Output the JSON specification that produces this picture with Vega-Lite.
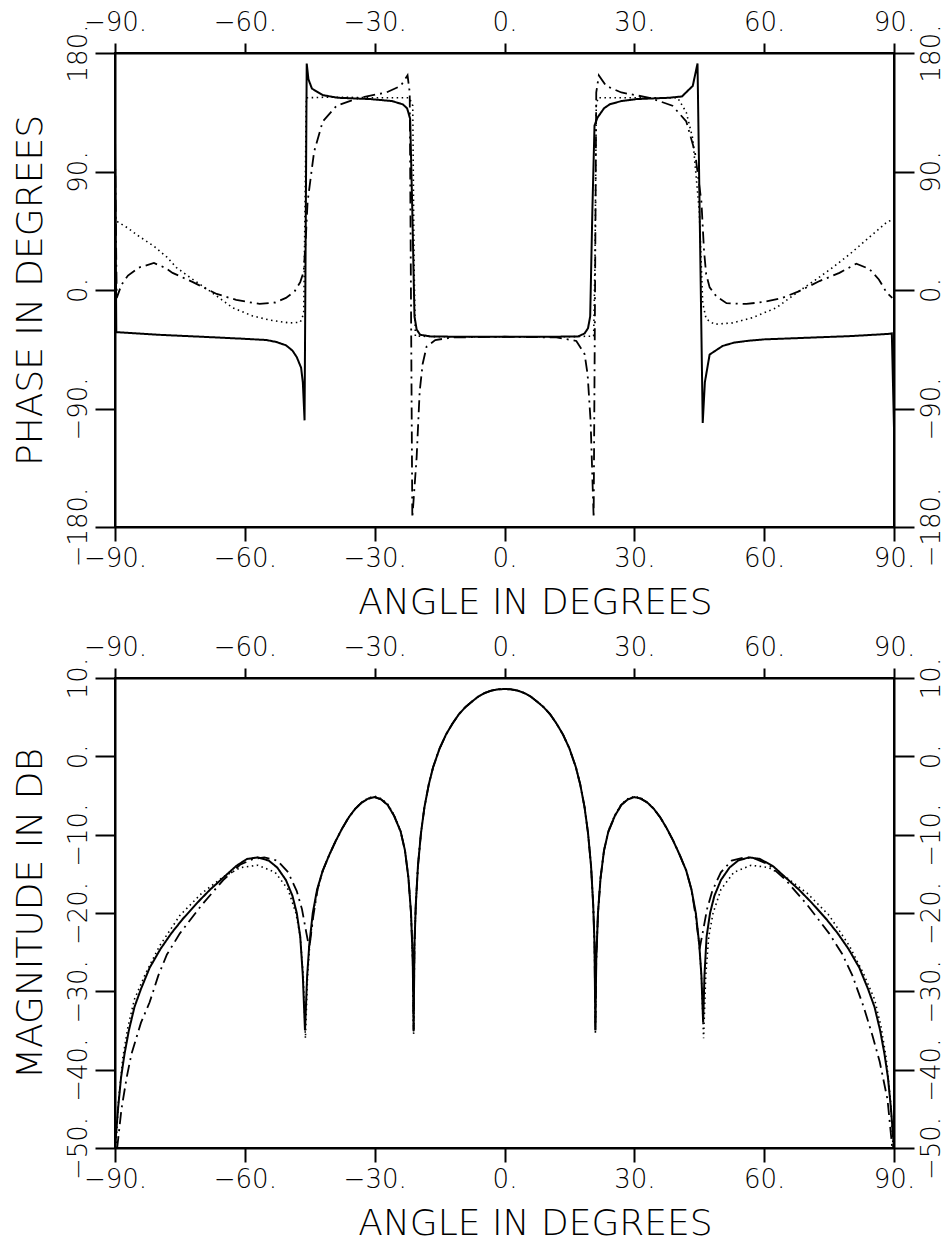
{
"$schema": "https://vega.github.io/schema/vega-lite/v6.json",
"background": "white",
"padding": {"left": 11, "top": 8, "right": 5, "bottom": 5},
"bounds": "flush",
"spacing": 151,
"config": {
  "view": {"stroke": "black", "strokeWidth": 2},
  "axis": {"grid": false, "domainColor": "black", "domainWidth": 2, "tickColor": "black", "tickWidth": 2,
    "labelColor": "black", "titleColor": "black", "labelFont": "DejaVu Sans", "titleFont": "DejaVu Sans",
    "labelFontWeight": 200, "titleFontWeight": 200, "labelFontSize": 26, "titleFontSize": 36, "labelOverlap": false, "labelFlush": false}
},
"datasets": {
"phase": [
{"s":"a","x":-90,"y":115},{"s":"a","x":-89.7,"y":-32},{"s":"a","x":-80,"y":-34},{"s":"a","x":-70,"y":-35.5},{"s":"a","x":-60.5,"y":-37},{"s":"a","x":-55,"y":-38},{"s":"a","x":-52.7,"y":-39.5},{"s":"a","x":-50.5,"y":-42},{"s":"a","x":-49,"y":-46},{"s":"a","x":-48,"y":-51},{"s":"a","x":-47,"y":-59},{"s":"a","x":-46.6,"y":-70},{"s":"a","x":-46.2,"y":-99},{"s":"a","x":-45.7,"y":172},{"s":"a","x":-45.3,"y":160},{"s":"a","x":-44.5,"y":153},{"s":"a","x":-42,"y":148},{"s":"a","x":-38.5,"y":146},{"s":"a","x":-31,"y":145},{"s":"a","x":-26,"y":143.5},{"s":"a","x":-23.5,"y":141},{"s":"a","x":-22.5,"y":138},{"s":"a","x":-21.8,"y":130},{"s":"a","x":-21.3,"y":60},{"s":"a","x":-20.8,"y":-20},{"s":"a","x":-20.3,"y":-30},{"s":"a","x":-19.5,"y":-34},{"s":"a","x":-17,"y":-35.3},{"s":"a","x":-10,"y":-35.5},{"s":"a","x":0,"y":-35.5},{"s":"a","x":10,"y":-35.5},{"s":"a","x":17,"y":-35.3},{"s":"a","x":18.5,"y":-33},{"s":"a","x":19.3,"y":-29},{"s":"a","x":19.8,"y":-20},{"s":"a","x":20.3,"y":60},{"s":"a","x":20.8,"y":125},{"s":"a","x":21.5,"y":131},{"s":"a","x":23,"y":138},{"s":"a","x":24.3,"y":141},{"s":"a","x":27,"y":143.5},{"s":"a","x":30.5,"y":145},{"s":"a","x":38,"y":146},{"s":"a","x":41,"y":147},{"s":"a","x":43.5,"y":155},{"s":"a","x":44.6,"y":172},{"s":"a","x":45.8,"y":-101},{"s":"a","x":46.3,"y":-70},{"s":"a","x":47.4,"y":-49},{"s":"a","x":50.4,"y":-42.5},{"s":"a","x":53,"y":-40},{"s":"a","x":55.9,"y":-38.7},{"s":"a","x":60,"y":-37.5},{"s":"a","x":68.9,"y":-36.4},{"s":"a","x":80,"y":-35},{"s":"a","x":88.5,"y":-33.4},{"s":"a","x":89.5,"y":-33},{"s":"a","x":90,"y":-105},
{"s":"b","x":-90,"y":105},{"s":"b","x":-89.6,"y":-6},{"s":"b","x":-88.5,"y":4},{"s":"b","x":-87,"y":11},{"s":"b","x":-84.5,"y":17},{"s":"b","x":-81,"y":20.5},{"s":"b","x":-78.5,"y":17},{"s":"b","x":-76.7,"y":13},{"s":"b","x":-72,"y":6},{"s":"b","x":-66.5,"y":-3},{"s":"b","x":-62,"y":-7.5},{"s":"b","x":-56.6,"y":-10.6},{"s":"b","x":-53,"y":-9.5},{"s":"b","x":-50.5,"y":-6},{"s":"b","x":-48.5,"y":-1},{"s":"b","x":-47.2,"y":6},{"s":"b","x":-46.4,"y":14},{"s":"b","x":-45.9,"y":40},{"s":"b","x":-45.5,"y":67},{"s":"b","x":-44,"y":105},{"s":"b","x":-42,"y":128},{"s":"b","x":-38.8,"y":140},{"s":"b","x":-33.5,"y":146},{"s":"b","x":-27.3,"y":150},{"s":"b","x":-24,"y":155},{"s":"b","x":-22.4,"y":163},{"s":"b","x":-21.9,"y":150},{"s":"b","x":-21.3,"y":-173},{"s":"b","x":-20.3,"y":-127},{"s":"b","x":-19.6,"y":-77},{"s":"b","x":-18.9,"y":-56},{"s":"b","x":-18,"y":-43},{"s":"b","x":-16,"y":-38},{"s":"b","x":-12,"y":-36},{"s":"b","x":0,"y":-35.5},{"s":"b","x":12,"y":-36},{"s":"b","x":16.6,"y":-38.7},{"s":"b","x":18.5,"y":-48.6},{"s":"b","x":19.2,"y":-64},{"s":"b","x":19.9,"y":-100},{"s":"b","x":20.6,"y":-173},{"s":"b","x":21.2,"y":150},{"s":"b","x":21.8,"y":163},{"s":"b","x":23.5,"y":155},{"s":"b","x":27,"y":150},{"s":"b","x":33.5,"y":146},{"s":"b","x":38.8,"y":140},{"s":"b","x":42,"y":128},{"s":"b","x":44,"y":105},{"s":"b","x":45.5,"y":67},{"s":"b","x":46.1,"y":30},{"s":"b","x":46.6,"y":12},{"s":"b","x":47.4,"y":2},{"s":"b","x":49,"y":-5},{"s":"b","x":51.3,"y":-10},{"s":"b","x":55.9,"y":-10.6},{"s":"b","x":60,"y":-9},{"s":"b","x":64.2,"y":-6},{"s":"b","x":68,"y":-1},{"s":"b","x":72.8,"y":6.8},{"s":"b","x":77.4,"y":13},{"s":"b","x":81.3,"y":20},{"s":"b","x":84.3,"y":16},{"s":"b","x":86.5,"y":8},{"s":"b","x":88.3,"y":-2},{"s":"b","x":89.6,"y":-6},
{"s":"c","x":-89.5,"y":52},{"s":"c","x":-87,"y":47},{"s":"c","x":-85,"y":42},{"s":"c","x":-80.9,"y":33},{"s":"c","x":-78,"y":25},{"s":"c","x":-75.8,"y":17},{"s":"c","x":-72,"y":8},{"s":"c","x":-68,"y":-1},{"s":"c","x":-62.8,"y":-13.5},{"s":"c","x":-58.2,"y":-19.7},{"s":"c","x":-54,"y":-23},{"s":"c","x":-49.7,"y":-25},{"s":"c","x":-47.2,"y":-24.5},{"s":"c","x":-46.4,"y":-18},{"s":"c","x":-46.1,"y":60},{"s":"c","x":-45.8,"y":146},{"s":"c","x":-40,"y":146.5},{"s":"c","x":-30,"y":146},{"s":"c","x":-22,"y":146},{"s":"c","x":-21.2,"y":140},{"s":"c","x":-20.9,"y":20},{"s":"c","x":-20.6,"y":-35},{"s":"c","x":-15,"y":-35.5},{"s":"c","x":0,"y":-35.5},{"s":"c","x":15,"y":-35.5},{"s":"c","x":20.6,"y":-35},{"s":"c","x":20.9,"y":20},{"s":"c","x":21.2,"y":140},{"s":"c","x":21.6,"y":146},{"s":"c","x":30,"y":146},{"s":"c","x":40,"y":146},{"s":"c","x":42,"y":135},{"s":"c","x":43.5,"y":115},{"s":"c","x":45,"y":60},{"s":"c","x":45.8,"y":-10},{"s":"c","x":46.6,"y":-22},{"s":"c","x":48.5,"y":-26},{"s":"c","x":52.7,"y":-25},{"s":"c","x":57.3,"y":-21},{"s":"c","x":62.8,"y":-13.5},{"s":"c","x":68,"y":-1},{"s":"c","x":72,"y":8},{"s":"c","x":75.8,"y":17},{"s":"c","x":79.7,"y":27},{"s":"c","x":85,"y":42},{"s":"c","x":88.5,"y":52},{"s":"c","x":89.5,"y":53}
],
"mag": [
{"s":"a","x":-90,"y":-50},{"s":"a","x":-89.3,"y":-45},{"s":"a","x":-88.6,"y":-41},{"s":"a","x":-87.8,"y":-38},{"s":"a","x":-86.8,"y":-35},{"s":"a","x":-85.5,"y":-32},{"s":"a","x":-84,"y":-29.7},{"s":"a","x":-82,"y":-27},{"s":"a","x":-79.5,"y":-24.6},{"s":"a","x":-77,"y":-22.6},{"s":"a","x":-74.4,"y":-20.8},{"s":"a","x":-71,"y":-18.7},{"s":"a","x":-68,"y":-17},{"s":"a","x":-65,"y":-15.5},{"s":"a","x":-62,"y":-14},{"s":"a","x":-59.5,"y":-13.1},{"s":"a","x":-57,"y":-12.9},{"s":"a","x":-54.5,"y":-13.3},{"s":"a","x":-52.5,"y":-14.2},{"s":"a","x":-50.5,"y":-15.8},{"s":"a","x":-49,"y":-17.8},{"s":"a","x":-48,"y":-20},{"s":"a","x":-47.2,"y":-23},{"s":"a","x":-46.6,"y":-28},{"s":"a","x":-46.1,"y":-35},{"s":"a","x":-45.6,"y":-28},{"s":"a","x":-45.1,"y":-24},{"s":"a","x":-44.3,"y":-20},{"s":"a","x":-43.3,"y":-17},{"s":"a","x":-42,"y":-14.6},{"s":"a","x":-40.5,"y":-12.6},{"s":"a","x":-39,"y":-10.8},{"s":"a","x":-37.5,"y":-9.2},{"s":"a","x":-36,"y":-7.8},{"s":"a","x":-34.5,"y":-6.7},{"s":"a","x":-33,"y":-5.9},{"s":"a","x":-31.5,"y":-5.4},{"s":"a","x":-30,"y":-5.2},{"s":"a","x":-28.5,"y":-5.5},{"s":"a","x":-27,"y":-6.2},{"s":"a","x":-25.5,"y":-7.6},{"s":"a","x":-24,"y":-9.6},{"s":"a","x":-23,"y":-12},{"s":"a","x":-22.2,"y":-15.5},{"s":"a","x":-21.6,"y":-20},{"s":"a","x":-21.2,"y":-26},{"s":"a","x":-21,"y":-35},{"s":"a","x":-20.8,"y":-24},{"s":"a","x":-20.5,"y":-19},{"s":"a","x":-20,"y":-14},{"s":"a","x":-19.3,"y":-9.8},{"s":"a","x":-18.5,"y":-6.5},{"s":"a","x":-17.5,"y":-3.6},{"s":"a","x":-16.5,"y":-1.4},{"s":"a","x":-15,"y":1},{"s":"a","x":-13.5,"y":2.8},{"s":"a","x":-12,"y":4.2},{"s":"a","x":-10.5,"y":5.4},{"s":"a","x":-9,"y":6.3},{"s":"a","x":-7.5,"y":7},{"s":"a","x":-6,"y":7.65},{"s":"a","x":-4.5,"y":8.1},{"s":"a","x":-3,"y":8.4},{"s":"a","x":-1.5,"y":8.55},{"s":"a","x":0,"y":8.6},{"s":"a","x":1.5,"y":8.55},{"s":"a","x":3,"y":8.4},{"s":"a","x":4.5,"y":8.1},{"s":"a","x":6,"y":7.65},{"s":"a","x":7.5,"y":7},{"s":"a","x":9,"y":6.3},{"s":"a","x":10.5,"y":5.4},{"s":"a","x":12,"y":4.2},{"s":"a","x":13.5,"y":2.8},{"s":"a","x":15,"y":1},{"s":"a","x":16.5,"y":-1.4},{"s":"a","x":17.5,"y":-3.6},{"s":"a","x":18.5,"y":-6.5},{"s":"a","x":19.3,"y":-9.8},{"s":"a","x":20,"y":-14},{"s":"a","x":20.5,"y":-19},{"s":"a","x":20.8,"y":-24},{"s":"a","x":21,"y":-35},{"s":"a","x":21.2,"y":-26},{"s":"a","x":21.6,"y":-20},{"s":"a","x":22.2,"y":-15.5},{"s":"a","x":23,"y":-12},{"s":"a","x":24,"y":-9.6},{"s":"a","x":25.5,"y":-7.6},{"s":"a","x":27,"y":-6.2},{"s":"a","x":28.5,"y":-5.5},{"s":"a","x":30,"y":-5.2},{"s":"a","x":31.5,"y":-5.4},{"s":"a","x":33,"y":-5.9},{"s":"a","x":34.5,"y":-6.7},{"s":"a","x":36,"y":-7.8},{"s":"a","x":37.5,"y":-9.2},{"s":"a","x":39,"y":-10.8},{"s":"a","x":40.5,"y":-12.6},{"s":"a","x":42,"y":-14.6},{"s":"a","x":43.2,"y":-17},{"s":"a","x":44.2,"y":-20},{"s":"a","x":45,"y":-24},{"s":"a","x":45.5,"y":-28},{"s":"a","x":45.9,"y":-34},{"s":"a","x":46.2,"y":-28},{"s":"a","x":46.7,"y":-23},{"s":"a","x":47.5,"y":-20},{"s":"a","x":48.5,"y":-17.8},{"s":"a","x":50,"y":-15.8},{"s":"a","x":52,"y":-14.2},{"s":"a","x":54,"y":-13.3},{"s":"a","x":56.5,"y":-12.9},{"s":"a","x":59,"y":-13.1},{"s":"a","x":62,"y":-14},{"s":"a","x":65,"y":-15.5},{"s":"a","x":68,"y":-17},{"s":"a","x":71,"y":-18.7},{"s":"a","x":74.4,"y":-20.8},{"s":"a","x":77,"y":-22.6},{"s":"a","x":79.5,"y":-24.6},{"s":"a","x":82,"y":-27},{"s":"a","x":84,"y":-29.7},{"s":"a","x":85.5,"y":-32},{"s":"a","x":86.8,"y":-35},{"s":"a","x":87.8,"y":-38},{"s":"a","x":88.6,"y":-41},{"s":"a","x":89.3,"y":-45},{"s":"a","x":90,"y":-50},
{"s":"b","x":-89.5,"y":-50},{"s":"b","x":-88.5,"y":-45},{"s":"b","x":-87.3,"y":-41},{"s":"b","x":-86.2,"y":-38},{"s":"b","x":-84,"y":-34},{"s":"b","x":-82,"y":-31.4},{"s":"b","x":-80,"y":-28},{"s":"b","x":-78,"y":-25.3},{"s":"b","x":-75,"y":-22.6},{"s":"b","x":-70,"y":-19},{"s":"b","x":-65,"y":-15.8},{"s":"b","x":-61,"y":-13.8},{"s":"b","x":-58,"y":-13.1},{"s":"b","x":-55.5,"y":-12.9},{"s":"b","x":-52.5,"y":-13.3},{"s":"b","x":-50,"y":-14.8},{"s":"b","x":-48,"y":-17.2},{"s":"b","x":-46.8,"y":-19.5},{"s":"b","x":-45.8,"y":-22.5},{"s":"b","x":-45.1,"y":-24.5},{"s":"b","x":-44.2,"y":-20.5},{"s":"b","x":-43.2,"y":-17},{"s":"b","x":-42,"y":-14.6},{"s":"b","x":-40.5,"y":-12.6},{"s":"b","x":-39,"y":-10.8},{"s":"b","x":-37.5,"y":-9.2},{"s":"b","x":-36,"y":-7.8},{"s":"b","x":-34.5,"y":-6.7},{"s":"b","x":-33,"y":-5.9},{"s":"b","x":-31.5,"y":-5.4},{"s":"b","x":-30,"y":-5.2},{"s":"b","x":-28.5,"y":-5.5},{"s":"b","x":-27,"y":-6.2},{"s":"b","x":-25.5,"y":-7.6},{"s":"b","x":-24,"y":-9.6},{"s":"b","x":-23,"y":-12},{"s":"b","x":-22.2,"y":-15.5},{"s":"b","x":-21.6,"y":-20},{"s":"b","x":-21.2,"y":-26},{"s":"b","x":-21,"y":-35},{"s":"b","x":-20.8,"y":-24},{"s":"b","x":-20.5,"y":-19},{"s":"b","x":-20,"y":-14},{"s":"b","x":-19.3,"y":-9.8},{"s":"b","x":-18.5,"y":-6.5},{"s":"b","x":-17.5,"y":-3.6},{"s":"b","x":-16.5,"y":-1.4},{"s":"b","x":-15,"y":1},{"s":"b","x":-13.5,"y":2.8},{"s":"b","x":-12,"y":4.2},{"s":"b","x":-10.5,"y":5.4},{"s":"b","x":-9,"y":6.3},{"s":"b","x":-7.5,"y":7},{"s":"b","x":-6,"y":7.65},{"s":"b","x":-4.5,"y":8.1},{"s":"b","x":-3,"y":8.4},{"s":"b","x":-1.5,"y":8.55},{"s":"b","x":0,"y":8.6},{"s":"b","x":1.5,"y":8.55},{"s":"b","x":3,"y":8.4},{"s":"b","x":4.5,"y":8.1},{"s":"b","x":6,"y":7.65},{"s":"b","x":7.5,"y":7},{"s":"b","x":9,"y":6.3},{"s":"b","x":10.5,"y":5.4},{"s":"b","x":12,"y":4.2},{"s":"b","x":13.5,"y":2.8},{"s":"b","x":15,"y":1},{"s":"b","x":16.5,"y":-1.4},{"s":"b","x":17.5,"y":-3.6},{"s":"b","x":18.5,"y":-6.5},{"s":"b","x":19.3,"y":-9.8},{"s":"b","x":20,"y":-14},{"s":"b","x":20.5,"y":-19},{"s":"b","x":20.8,"y":-24},{"s":"b","x":21,"y":-35},{"s":"b","x":21.2,"y":-26},{"s":"b","x":21.6,"y":-20},{"s":"b","x":22.2,"y":-15.5},{"s":"b","x":23,"y":-12},{"s":"b","x":24,"y":-9.6},{"s":"b","x":25.5,"y":-7.6},{"s":"b","x":27,"y":-6.2},{"s":"b","x":28.5,"y":-5.5},{"s":"b","x":30,"y":-5.2},{"s":"b","x":31.5,"y":-5.4},{"s":"b","x":33,"y":-5.9},{"s":"b","x":34.5,"y":-6.7},{"s":"b","x":36,"y":-7.8},{"s":"b","x":37.5,"y":-9.2},{"s":"b","x":39,"y":-10.8},{"s":"b","x":40.5,"y":-12.6},{"s":"b","x":42,"y":-14.6},{"s":"b","x":43.2,"y":-17},{"s":"b","x":44.2,"y":-20.5},{"s":"b","x":45.1,"y":-24.5},{"s":"b","x":45.8,"y":-22.5},{"s":"b","x":46.8,"y":-19.5},{"s":"b","x":48,"y":-17.2},{"s":"b","x":50,"y":-14.8},{"s":"b","x":52.5,"y":-13.3},{"s":"b","x":55.5,"y":-12.9},{"s":"b","x":58,"y":-13.1},{"s":"b","x":61,"y":-13.8},{"s":"b","x":65,"y":-15.8},{"s":"b","x":70,"y":-19},{"s":"b","x":75,"y":-22.6},{"s":"b","x":78,"y":-25.2},{"s":"b","x":80.4,"y":-28},{"s":"b","x":83,"y":-32},{"s":"b","x":85,"y":-35.6},{"s":"b","x":86.7,"y":-39},{"s":"b","x":88.5,"y":-43.8},{"s":"b","x":89.6,"y":-50},
{"s":"c","x":-89.8,"y":-50},{"s":"c","x":-89.2,"y":-44},{"s":"c","x":-88.2,"y":-38.5},{"s":"c","x":-87,"y":-34.5},{"s":"c","x":-85.5,"y":-31},{"s":"c","x":-83,"y":-27.8},{"s":"c","x":-79.7,"y":-24.2},{"s":"c","x":-75,"y":-20.3},{"s":"c","x":-70,"y":-17.5},{"s":"c","x":-65,"y":-15.4},{"s":"c","x":-61,"y":-14.2},{"s":"c","x":-57,"y":-13.9},{"s":"c","x":-53,"y":-14.8},{"s":"c","x":-50,"y":-17},{"s":"c","x":-48.2,"y":-20},{"s":"c","x":-47.2,"y":-23},{"s":"c","x":-46.5,"y":-28},{"s":"c","x":-46,"y":-36},{"s":"c","x":-45.5,"y":-28},{"s":"c","x":-45,"y":-24},{"s":"c","x":-44.2,"y":-20},{"s":"c","x":-43.2,"y":-17},{"s":"c","x":-42,"y":-14.6},{"s":"c","x":-40.5,"y":-12.6},{"s":"c","x":-39,"y":-10.8},{"s":"c","x":-37.5,"y":-9.2},{"s":"c","x":-36,"y":-7.8},{"s":"c","x":-34.5,"y":-6.7},{"s":"c","x":-33,"y":-5.9},{"s":"c","x":-31.5,"y":-5.3},{"s":"c","x":-30,"y":-5.1},{"s":"c","x":-28.5,"y":-5.4},{"s":"c","x":-27,"y":-6.1},{"s":"c","x":-25.5,"y":-7.5},{"s":"c","x":-24,"y":-9.5},{"s":"c","x":-23,"y":-12},{"s":"c","x":-22.2,"y":-15.5},{"s":"c","x":-21.6,"y":-20},{"s":"c","x":-21.2,"y":-26},{"s":"c","x":-21,"y":-35.5},{"s":"c","x":-20.8,"y":-24},{"s":"c","x":-20.5,"y":-19},{"s":"c","x":-20,"y":-14},{"s":"c","x":-19.3,"y":-9.8},{"s":"c","x":-18.5,"y":-6.5},{"s":"c","x":-17.5,"y":-3.6},{"s":"c","x":-16.5,"y":-1.4},{"s":"c","x":-15,"y":1},{"s":"c","x":-13.5,"y":2.8},{"s":"c","x":-12,"y":4.2},{"s":"c","x":-10.5,"y":5.4},{"s":"c","x":-9,"y":6.3},{"s":"c","x":-7.5,"y":7},{"s":"c","x":-6,"y":7.65},{"s":"c","x":-4.5,"y":8.1},{"s":"c","x":-3,"y":8.4},{"s":"c","x":-1.5,"y":8.55},{"s":"c","x":0,"y":8.6},{"s":"c","x":1.5,"y":8.55},{"s":"c","x":3,"y":8.4},{"s":"c","x":4.5,"y":8.1},{"s":"c","x":6,"y":7.65},{"s":"c","x":7.5,"y":7},{"s":"c","x":9,"y":6.3},{"s":"c","x":10.5,"y":5.4},{"s":"c","x":12,"y":4.2},{"s":"c","x":13.5,"y":2.8},{"s":"c","x":15,"y":1},{"s":"c","x":16.5,"y":-1.4},{"s":"c","x":17.5,"y":-3.6},{"s":"c","x":18.5,"y":-6.5},{"s":"c","x":19.3,"y":-9.8},{"s":"c","x":20,"y":-14},{"s":"c","x":20.5,"y":-19},{"s":"c","x":20.8,"y":-24},{"s":"c","x":21,"y":-35.5},{"s":"c","x":21.2,"y":-26},{"s":"c","x":21.6,"y":-20},{"s":"c","x":22.2,"y":-15.5},{"s":"c","x":23,"y":-12},{"s":"c","x":24,"y":-9.5},{"s":"c","x":25.5,"y":-7.5},{"s":"c","x":27,"y":-6.1},{"s":"c","x":28.5,"y":-5.4},{"s":"c","x":30,"y":-5.1},{"s":"c","x":31.5,"y":-5.3},{"s":"c","x":33,"y":-5.9},{"s":"c","x":34.5,"y":-6.7},{"s":"c","x":36,"y":-7.8},{"s":"c","x":37.5,"y":-9.2},{"s":"c","x":39,"y":-10.8},{"s":"c","x":40.5,"y":-12.6},{"s":"c","x":42,"y":-14.6},{"s":"c","x":43.2,"y":-17},{"s":"c","x":44.2,"y":-20},{"s":"c","x":45,"y":-24},{"s":"c","x":45.5,"y":-28},{"s":"c","x":46,"y":-36},{"s":"c","x":46.5,"y":-28},{"s":"c","x":47.2,"y":-23},{"s":"c","x":48.2,"y":-20},{"s":"c","x":50,"y":-17},{"s":"c","x":53,"y":-14.8},{"s":"c","x":57,"y":-13.9},{"s":"c","x":61,"y":-14.2},{"s":"c","x":65,"y":-15.4},{"s":"c","x":70,"y":-17.5},{"s":"c","x":75,"y":-20.3},{"s":"c","x":79.7,"y":-24.2},{"s":"c","x":83,"y":-27.8},{"s":"c","x":85.5,"y":-31},{"s":"c","x":87,"y":-34.5},{"s":"c","x":88.2,"y":-38.5},{"s":"c","x":89.2,"y":-44},{"s":"c","x":89.8,"y":-50}
]
},
"vconcat": [
{
  "width": 779, "height": 474,
  "data": {"name": "phase"},
  "layer": [
    {
      "mark": {"type": "line", "color": "black", "clip": true},
      "encoding": {
        "x": {"field": "x", "type": "quantitative", "scale": {"domain": [-90, 90], "nice": false, "zero": false},
          "axis": {"orient": "bottom", "values": [-90, -60, -30, 0, 30, 60, 90], "labelExpr": "datum.label + '.'", "tickSize": 14, "labelPadding": 4, "title": "ANGLE IN DEGREES", "titlePadding": 14, "titleX": 420}},
        "y": {"field": "y", "type": "quantitative", "scale": {"domain": [-180, 180], "nice": false, "zero": false},
          "axis": {"orient": "left", "values": [-180, -90, 0, 90, 180], "labelExpr": "datum.label + '.'", "labelAngle": -90, "tickSize": 20, "labelPadding": 4, "title": "PHASE IN DEGREES", "titlePadding": 16}},
        "strokeDash": {"field": "s", "type": "nominal", "scale": {"domain": ["a", "b", "c"], "range": [[1, 0], [12, 5, 2, 5], [1.5, 3.5]]}, "legend": null},
        "strokeWidth": {"field": "s", "type": "nominal", "scale": {"domain": ["a", "b", "c"], "range": [2, 1.6, 1.8]}, "legend": null}
      }
    },
    {
      "mark": {"type": "line", "opacity": 0},
      "encoding": {
        "x": {"field": "x", "type": "quantitative", "scale": {"domain": [-90, 90], "nice": false, "zero": false},
          "axis": {"orient": "top", "values": [-90, -60, -30, 0, 30, 60, 90], "labelExpr": "datum.label + '.'", "tickSize": 10, "labelPadding": 8, "title": null}},
        "y": {"field": "y", "type": "quantitative", "scale": {"domain": [-180, 180], "nice": false, "zero": false},
          "axis": {"orient": "right", "values": [-180, -90, 0, 90, 180], "labelExpr": "datum.label + '.'", "labelAngle": -90, "tickSize": 20, "labelPadding": 4, "title": null}},
        "detail": {"field": "s", "type": "nominal"}
      }
    }
  ],
  "resolve": {"axis": {"x": "independent", "y": "independent"}}
},
{
  "width": 779, "height": 470,
  "data": {"name": "mag"},
  "layer": [
    {
      "mark": {"type": "line", "color": "black", "clip": true},
      "encoding": {
        "x": {"field": "x", "type": "quantitative", "scale": {"domain": [-90, 90], "nice": false, "zero": false},
          "axis": {"orient": "bottom", "values": [-90, -60, -30, 0, 30, 60, 90], "labelExpr": "datum.label + '.'", "tickSize": 14, "labelPadding": 4, "title": "ANGLE IN DEGREES", "titlePadding": 14, "titleX": 420}},
        "y": {"field": "y", "type": "quantitative", "scale": {"domain": [-50, 10], "nice": false, "zero": false},
          "axis": {"orient": "left", "values": [-50, -40, -30, -20, -10, 0, 10], "labelExpr": "datum.label + '.'", "labelAngle": -90, "tickSize": 20, "labelPadding": 4, "title": "MAGNITUDE IN DB", "titlePadding": 16}},
        "strokeDash": {"field": "s", "type": "nominal", "scale": {"domain": ["a", "b", "c"], "range": [[1, 0], [12, 5, 2, 5], [1.5, 3.5]]}, "legend": null},
        "strokeWidth": {"field": "s", "type": "nominal", "scale": {"domain": ["a", "b", "c"], "range": [2, 1.6, 1.8]}, "legend": null}
      }
    },
    {
      "mark": {"type": "line", "opacity": 0},
      "encoding": {
        "x": {"field": "x", "type": "quantitative", "scale": {"domain": [-90, 90], "nice": false, "zero": false},
          "axis": {"orient": "top", "values": [-90, -60, -30, 0, 30, 60, 90], "labelExpr": "datum.label + '.'", "tickSize": 10, "labelPadding": 8, "title": null}},
        "y": {"field": "y", "type": "quantitative", "scale": {"domain": [-50, 10], "nice": false, "zero": false},
          "axis": {"orient": "right", "values": [-50, -40, -30, -20, -10, 0, 10], "labelExpr": "datum.label + '.'", "labelAngle": -90, "tickSize": 20, "labelPadding": 4, "title": null}},
        "detail": {"field": "s", "type": "nominal"}
      }
    }
  ],
  "resolve": {"axis": {"x": "independent", "y": "independent"}}
}
]
}
